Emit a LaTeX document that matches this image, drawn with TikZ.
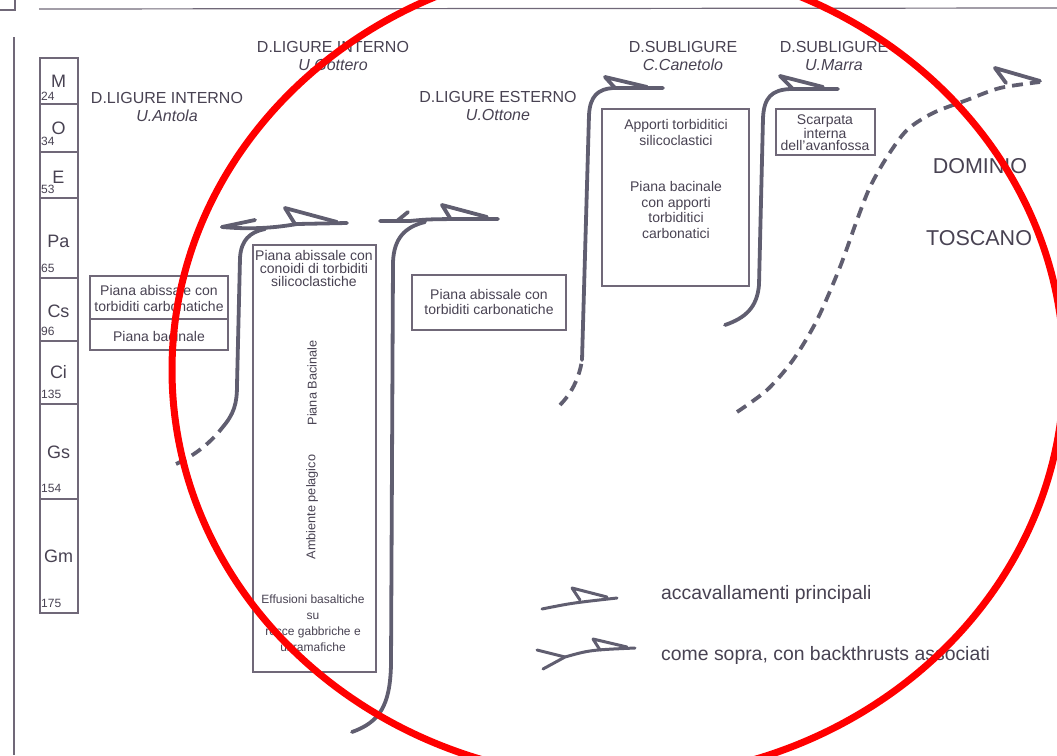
\documentclass[tikz,border=0pt]{standalone}
\usepackage{fontspec}
\setmainfont{Liberation Sans}

\definecolor{inkgray}{RGB}{72,66,82}
\definecolor{thrustgray}{RGB}{96,94,112}
\definecolor{framegray}{RGB}{112,104,120}

\begin{document}
\begin{tikzpicture}[x=1pt,y=-1pt,
  thrust/.style={draw=thrustgray,line width=3.8pt,line cap=round,line join=round},
  buried/.style={thrust,line cap=butt,dash pattern=on 11pt off 7pt},
  frame/.style={draw=framegray,line width=1.2pt},
  hdr/.style={text=inkgray,align=center,inner sep=0pt,font=\fontsize{16}{18}\selectfont},
  boxtxt/.style={text=inkgray,align=center,inner sep=0pt,font=\fontsize{14}{16}\selectfont},
  period/.style={text=inkgray,inner sep=0pt,font=\fontsize{18}{18}\selectfont},
  agetxt/.style={text=inkgray,inner sep=0pt,anchor=west,font=\fontsize{12}{12}\selectfont}]
  \useasboundingbox (0,0) rectangle (1057,755);
  \clip (0,0) rectangle (1057,755);

  % edges of the scanned page
  \draw[frame] (0,10) -- (15,10) -- (15,0);
  \draw[frame] (39,9) -- (1057,8);
  \draw[frame] (14,37) -- (14,755);

  % time scale, ages in Ma
  \draw[frame] (40,58) rectangle (78,613);
  \foreach \yy in {104,152,198,278,341,404,499}
    \draw[frame] (40,\yy) -- (78,\yy);
  \foreach \nm/\ny/\age/\ay in {M/81/24/96,O/128/34/141,E/177/53/189,Pa/241/65/268,
      Cs/311/96/331,Ci/372/135/394,Gs/452/154/488,Gm/556/175/603}{
    \node[period] (per\nm) at (58.5,\ny) {\nm};
    \node[agetxt] (age\age) at (41,\ay) {\age};
  }

  % domains and units
  \node[hdr] (hdAntola) at (167,107) {D.LIGURE INTERNO\\\textit{U.Antola}};
  \node[hdr] (hdGottero) at (333,56) {D.LIGURE INTERNO\\\textit{U.Gottero}};
  \node[hdr] (hdOttone) at (498,106) {D.LIGURE ESTERNO\\\textit{U.Ottone}};
  \node[hdr] (hdCanetolo) at (683,56) {D.SUBLIGURE\\\textit{C.Canetolo}};
  \node[hdr] (hdMarra) at (834,56) {D.SUBLIGURE\\\textit{U.Marra}};
  \node[text=inkgray,font=\fontsize{21.5}{22}\selectfont] (dominio) at (980,166) {DOMINIO};
  \node[text=inkgray,font=\fontsize{21.5}{22}\selectfont] (toscano) at (979,238) {TOSCANO};

  % U.Antola
  \draw[frame] (90,276) rectangle (228,350);
  \draw[frame] (90,319) -- (228,319);
  \node[boxtxt] (antolaA) at (159,298) {Piana abissale con\\torbiditi carbonatiche};
  \node[boxtxt] (antolaB) at (159,336) {Piana bacinale};

  % U.Gottero
  \draw[frame] (253,245) rectangle (376,672);
  \node[boxtxt,font=\fontsize{14}{13}\selectfont] (gotteroA) at (314,268)
    {Piana abissale con\\conoidi di torbiditi\\silicoclastiche};
  \node[boxtxt,font=\fontsize{12.7}{13}\selectfont,rotate=90] (gotteroB) at (312,383) {Piana Bacinale};
  \node[boxtxt,font=\fontsize{12.7}{13}\selectfont,rotate=90] (gotteroC) at (312,507) {Ambiente pelagico};
  \node[boxtxt,font=\fontsize{12}{16}\selectfont] (gotteroD) at (313,623)
    {Effusioni basaltiche\\su\\rocce gabbriche e\\ultramafiche};

  % U.Ottone
  \draw[frame] (412,275) rectangle (566,330);
  \node[boxtxt,font=\fontsize{14}{15}\selectfont] (ottoneA) at (489,302)
    {Piana abissale con\\torbiditi carbonatiche};

  % C.Canetolo
  \draw[frame] (602,109) rectangle (749,286);
  \node[boxtxt] (canetoloA) at (676,132) {Apporti torbiditici\\silicoclastici};
  \node[boxtxt,font=\fontsize{14}{15.7}\selectfont] (canetoloB) at (676,210)
    {Piana bacinale\\con apporti\\torbiditici\\carbonatici};

  % U.Marra
  \draw[frame] (776,109) rectangle (875,155);
  \node[boxtxt,font=\fontsize{14}{12}\selectfont] (marraA) at (825,133)
    {Scarpata\\interna\\dell'avanfossa};

  % thrust Antola / Gottero
  \draw[buried] (176,464) .. controls (196,455) and (212,441) .. (222,428);
  \draw[thrust] (222,428) .. controls (234,414) and (237,404) .. (237,385)
    -- (240,258) .. controls (241,240) and (250,232) .. (265,229);
  \draw[thrust] (222,227) .. controls (245,229) and (268,229) .. (297,224) -- (347,223);
  \draw[thrust] (222,227) -- (255,220);
  \draw[thrust] (295,224) -- (285,208) -- (337,222);

  % thrust Gottero / Ottone
  \draw[thrust] (352,732) .. controls (380,722) and (390,705) .. (391,665)
    -- (393,262) .. controls (394,238) and (405,227) .. (425,222);
  \draw[thrust] (380,221) -- (410,221) .. controls (430,219) .. (498,219);
  \draw[thrust] (397,221) -- (408,212);
  \draw[thrust] (450,218) -- (442,205) -- (487,217);

  % thrust Ottone / Canetolo
  \draw[buried] (560,405) .. controls (570,395) and (579,380) .. (582,360);
  \draw[thrust] (582,360) -- (589,115) .. controls (590,96) and (598,89) .. (613,88) -- (663,88);
  \draw[thrust] (615,88) -- (605,77) -- (647,87);

  % thrust Canetolo / Marra
  \draw[thrust] (725,325) .. controls (745,318) and (757,308) .. (759,285)
    -- (763,118) .. controls (764,97) and (772,90) .. (790,89) -- (838,89);
  \draw[thrust] (792,88) -- (780,76) -- (823,87);

  % front of the Tuscan domain
  \draw[buried] plot[smooth] coordinates {(737,412) (767,390) (793,360) (817,320) (840,267)
    (857,220) (870,187) (887,157) (907,130) (933,113) (967,100) (1000,88) (1040,82)};
  \draw[thrust] (1006,83) -- (995,68) -- (1040,81);

  % legend
  \draw[thrust,line width=3pt] (542,609) .. controls (572,603) .. (617,598);
  \draw[thrust,line width=3pt] (580,600) -- (572,588) -- (607,597);
  \node[text=inkgray,anchor=west,inner sep=0pt,font=\fontsize{19.4}{19}\selectfont] (legMain) at (661,594)
    {accavallamenti principali};
  \draw[thrust,line width=3pt] (543,669) -- (565,657) .. controls (590,650) .. (635,648);
  \draw[thrust,line width=3pt] (565,657) -- (537,650);
  \draw[thrust,line width=3pt] (600,650) -- (593,639) -- (627,647);
  \node[text=inkgray,anchor=west,inner sep=0pt,font=\fontsize{19.4}{19}\selectfont] (legBack) at (661,655)
    {come sopra, con backthrusts associati};

  % red mark over the scan
  \draw[red,line width=7pt] (618,370) ellipse [x radius=446pt,y radius=409pt];
\end{tikzpicture}
\end{document}
